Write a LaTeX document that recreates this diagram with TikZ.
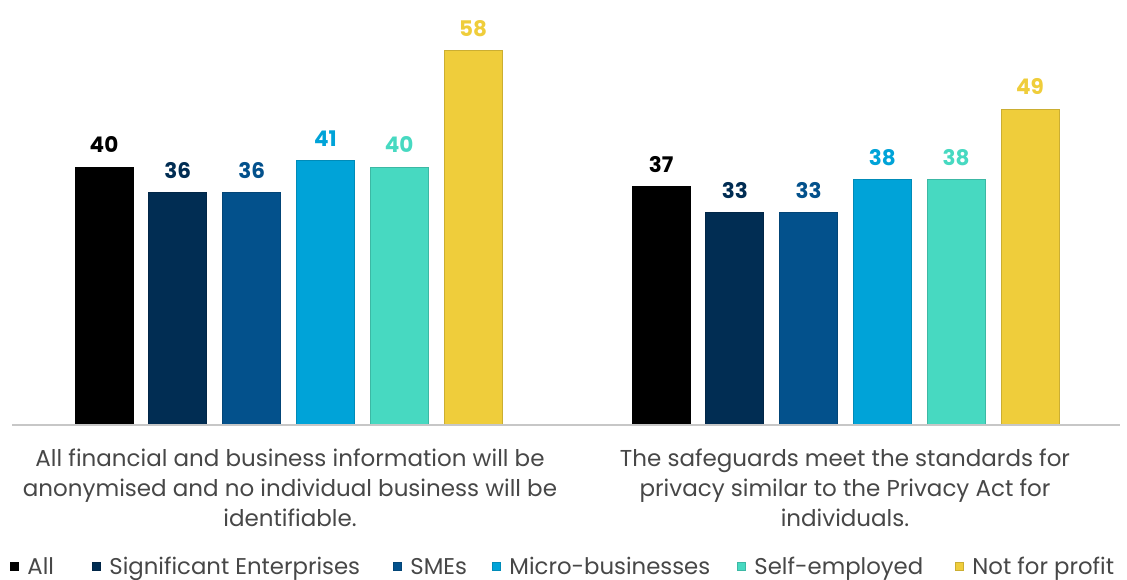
\documentclass[tikz,border=0pt]{standalone}
\usepackage{fontspec}
\setmainfont{Poppins}
\usetikzlibrary{positioning}
\definecolor{allc}{HTML}{000000}
\definecolor{sigc}{HTML}{012D53}
\definecolor{smec}{HTML}{03518C}
\definecolor{microc}{HTML}{00A3D8}
\definecolor{selfc}{HTML}{47D9C1}
\definecolor{nfpc}{HTML}{EFCD3B}
\tikzset{
  % For bars.
  bar/.style={
    draw=#1!85!black,
    fill=#1,
    line width=0.8pt,
    minimum width=58pt,
    inner sep=0pt,
    outer sep=0pt,
    anchor=south west},
%
  % For numbers above bars.
  value/.style={
    text=#1,
    font=\fontsize{21.5pt}{24pt}\selectfont\bfseries,
    inner sep=0pt,
    anchor=base},
%
  % For category texts.
  description/.style={
    font=\fontsize{23pt}{30pt}\selectfont\color{black!72},
    align=center,
    anchor=north},
%
  % For legend keys.
  key/.style={
    fill=#1,
    draw=#1!85!black,
    line width=0.5pt,
    minimum size=8pt,
    inner sep=0pt},
%
  % For legend texts.
  keytext/.style={
    font=\fontsize{22.8pt}{24pt}\selectfont\color{black!72},
    inner sep=0pt,
    anchor=base west},
}
\begin{document}
\begin{tikzpicture}[x=1pt,y=-1pt]
  \useasboundingbox (0,0) rectangle (1127,580);

  % Bars of both groups.
  \foreach \g/\start/\vals in {1/75/{40,36,36,41,40,58}, 2/632/{37,33,33,38,38,49}} {
    \foreach \c [count=\i] in {allc,sigc,smec,microc,selfc,nfpc} {
      \pgfmathsetmacro\h{{\vals}[\i-1]}
      \pgfmathtruncatemacro\v{\h}
      \node[bar=\c, minimum height=\h*6.45pt] (b\g\i) at ({\start+(\i-1)*73.8},425) {};
      \node[value=\c] (v\g\i) at ([yshift=14pt]b\g\i.north) {\v};
    }
  }

  \coordinate (axisL) at (12,425);
  \coordinate (axisR) at (1120,425);
  \draw[black!22, line width=1.5pt] (axisL) -- (axisR);

  \node[description] (cat1) at (290,445)
    {All financial and business information will be\\
     anonymised and no individual business will be\\
     identifiable.};
  \node[description] (cat2) at (845,445)
    {The safeguards meet the standards for\\
     privacy similar to the Privacy Act for\\
     individuals.};

  % Legend.
  \foreach \c/\x/\txt [count=\i] in {allc/14/All, sigc/96/Significant Enterprises,
      smec/397/SMEs, microc/496/Micro-businesses, selfc/741/Self-employed,
      nfpc/959/Not for profit} {
    \node[key=\c] (k\i) at (\x,566) {};
    \node[keytext] (t\i) at ([xshift=9pt,yshift=-8pt]k\i.east) {\txt};
  }
\end{tikzpicture}
\end{document}
